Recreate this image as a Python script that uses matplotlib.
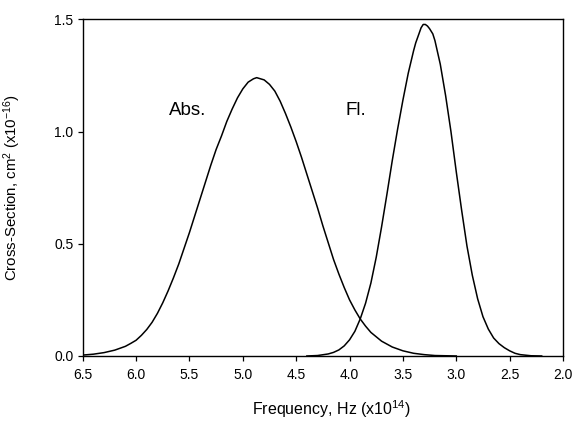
import matplotlib
matplotlib.use("Agg")
import matplotlib.pyplot as plt

plt.rcParams['font.family'] = ['Liberation Sans', 'DejaVu Sans']
plt.rcParams['mathtext.fontset'] = 'custom'
plt.rcParams['mathtext.rm'] = 'Liberation Sans'
plt.rcParams['mathtext.it'] = 'Liberation Sans'

# absorption curve (frequency x1e14 Hz, cross-section x1e-16 cm2)
abs_freq = [6.50, 6.40, 6.30, 6.20, 6.10, 6.05, 6.00, 5.95, 5.90, 5.85,
            5.80, 5.75, 5.70, 5.65, 5.60, 5.55, 5.50, 5.45, 5.40, 5.35,
            5.30, 5.25, 5.20, 5.15, 5.10, 5.05, 5.00, 4.95, 4.90, 4.87,
            4.80, 4.75, 4.70, 4.65, 4.60, 4.55, 4.50, 4.45, 4.40, 4.35,
            4.30, 4.25, 4.20, 4.15, 4.10, 4.05, 4.00, 3.95, 3.90, 3.85,
            3.80, 3.70, 3.60, 3.50, 3.40, 3.30, 3.20, 3.00]
abs_sigma = [0.004, 0.008, 0.015, 0.026, 0.043, 0.056, 0.070, 0.092, 0.118, 0.150,
             0.19, 0.237, 0.29, 0.348, 0.41, 0.48, 0.55, 0.625, 0.70, 0.775,
             0.85, 0.92, 0.98, 1.045, 1.10, 1.15, 1.19, 1.22, 1.235, 1.24,
             1.23, 1.21, 1.18, 1.135, 1.08, 1.02, 0.955, 0.885, 0.81, 0.735,
             0.66, 0.58, 0.505, 0.43, 0.365, 0.305, 0.25, 0.205, 0.165, 0.133,
             0.105, 0.066, 0.040, 0.023, 0.012, 0.006, 0.002, 0.0]

# fluorescence curve
fl_freq = [4.40, 4.30, 4.20, 4.15, 4.10, 4.05, 4.00, 3.95, 3.90, 3.85,
           3.80, 3.75, 3.70, 3.65, 3.60, 3.55, 3.50, 3.45, 3.40, 3.38,
           3.35, 3.33, 3.31, 3.29, 3.27, 3.25, 3.22, 3.20, 3.15, 3.10,
           3.05, 3.00, 2.95, 2.90, 2.85, 2.80, 2.75, 2.70, 2.65, 2.60,
           2.55, 2.50, 2.45, 2.40, 2.30, 2.20]
fl_sigma = [0.0, 0.002, 0.009, 0.016, 0.027, 0.045, 0.072, 0.11, 0.165, 0.235,
            0.325, 0.44, 0.575, 0.72, 0.87, 1.01, 1.14, 1.26, 1.36, 1.395,
            1.435, 1.462, 1.477, 1.477, 1.470, 1.458, 1.435, 1.405, 1.30, 1.16,
            1.00, 0.82, 0.65, 0.49, 0.36, 0.255, 0.175, 0.12, 0.08, 0.055,
            0.037, 0.023, 0.012, 0.006, 0.001, 0.0]

xticks = [6.5, 6.0, 5.5, 5.0, 4.5, 4.0, 3.5, 3.0, 2.5, 2.0]
yticks = [0.0, 0.5, 1.0, 1.5]

fig = plt.figure(figsize=(5.72, 4.25), dpi=100)
ax = fig.add_axes([0.1446, 0.1624, 0.8397, 0.7922])

ax.plot(abs_freq, abs_sigma, color='black', lw=1.1)
ax.plot(fl_freq, fl_sigma, color='black', lw=1.1)

ax.set_xlim(6.5, 2.0)
ax.set_ylim(0, 1.5)
ax.set_xticks(xticks)
ax.set_xticklabels(['%.1f' % t for t in xticks])
ax.set_yticks(yticks)
ax.set_yticklabels(['%.1f' % t for t in yticks])
ax.tick_params(direction='out', length=3.6, width=0.9, labelsize=10)
ax.tick_params(axis='x', pad=5)
ax.tick_params(axis='y', pad=3)
for s in ax.spines.values():
    s.set_linewidth(1.0)

ax.text(5.52, 1.095, 'Abs.', fontsize=13.5, ha='center', va='center')
ax.text(3.94, 1.095, 'Fl.', fontsize=13.5, ha='center', va='center')

ax.set_xlabel(r'Frequency, Hz (x10$^{14}$)', fontsize=11.5)
ax.xaxis.set_label_coords(0.517, -0.125)
ax.set_ylabel(r'Cross-Section, cm$^{2}$ (x10$^{-16}$)', fontsize=10.8)
ax.yaxis.set_label_coords(-0.124, 0.5)

fig.savefig('out.png', dpi=100)
